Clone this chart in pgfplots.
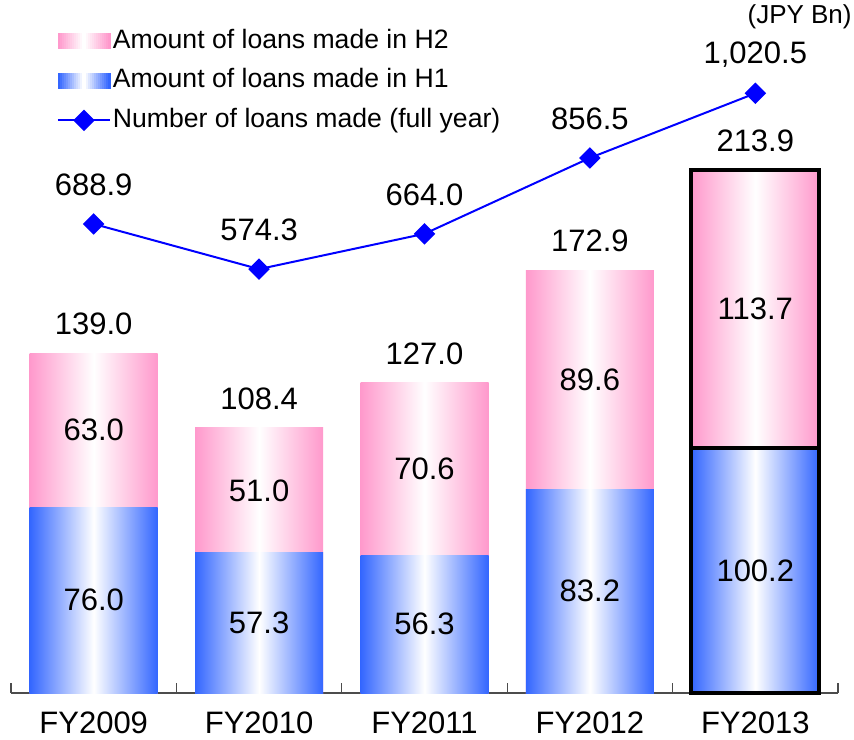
\documentclass[border=0pt]{standalone}
\usepackage{pgfplots}
\pgfplotsset{compat=1.18}
\usepackage{fontspec}
\setmainfont{Liberation Sans}
\definecolor{pinkc}{RGB}{255,153,204}
\definecolor{bluec}{RGB}{51,102,255}
\definecolor{linec}{RGB}{0,0,255}
\pgfdeclarehorizontalshading{pinkbar}{100bp}{color(0bp)=(pinkc); color(25bp)=(pinkc); color(50bp)=(white); color(75bp)=(pinkc); color(100bp)=(pinkc)}
\pgfdeclarehorizontalshading{bluebar}{100bp}{color(0bp)=(bluec); color(25bp)=(bluec); color(50bp)=(white); color(75bp)=(bluec); color(100bp)=(bluec)}
\tikzset{lab/.style={font=\fontsize{15.5}{18}\selectfont}}
\pgfplotsset{
  base/.style={scale only axis, width=413.5pt, height=331.5pt,
    at={(5.5pt,21.5pt)}, anchor=south west, xmin=-0.5, xmax=4.5, clip=false},
  barp/.style={ybar, bar width=64pt, bar shift=0pt, draw=none, shade, shading=#1},
}
\newcommand\gradlegend[1]{%
  \foreach \gx/\gq in {0/100,1/92,2/83,3/75,4/67,5/58,6/50,7/42,8/33,9/25,10/17,11/8,12/0,13/0,14/8,15/17,16/25,17/33,18/42,19/50,20/58,21/67,22/75,23/83,24/92,25/100}{%
    \fill[#1!\gq!white] (\gx*1pt,-3.75pt) rectangle ++(1.05pt,7.5pt);}}
\begin{document}
\begin{tikzpicture}
\path (0,0) rectangle (427pt,368pt);
\begin{axis}[base, ymin=0, ymax=271.17,
  axis y line=none, axis x line*=bottom,
  axis line style={draw=black!70, line width=0.6pt, -},
  xtick={0,1,2,3,4}, xticklabels={FY2009,FY2010,FY2011,FY2012,FY2013},
  major tick length=0pt,
  extra x ticks={-0.5,0.5,1.5,2.5,3.5,4.5}, extra x tick labels={},
  extra x tick style={major tick length=5pt, tick align=inside,
    tick style={draw=black!70, line width=0.6pt}},
  xticklabel style={lab, anchor=base, yshift=-20pt}]
% totals (H1 + H2) drawn first, H1 on top
\addplot[barp=pinkbar] coordinates {(0,139.0)};
\addplot[barp=pinkbar] coordinates {(1,108.4)};
\addplot[barp=pinkbar] coordinates {(2,127.0)};
\addplot[barp=pinkbar] coordinates {(3,172.9)};
\addplot[barp=pinkbar] coordinates {(4,213.9)};
\addplot[barp=bluebar] coordinates {(0,76.0)};
\addplot[barp=bluebar] coordinates {(1,57.3)};
\addplot[barp=bluebar] coordinates {(2,56.3)};
\addplot[barp=bluebar] coordinates {(3,83.2)};
\addplot[barp=bluebar] coordinates {(4,100.2)};
\addplot[ybar, bar width=64pt, bar shift=0pt, draw=black, line width=2pt, fill=none]
  coordinates {(4,213.9)};
\addplot[ybar, bar width=64pt, bar shift=0pt, draw=black, line width=2pt, fill=none]
  coordinates {(4,100.2)};
\addplot[draw=none, mark=none, nodes near coords, point meta=explicit symbolic,
  every node near coord/.style={lab, anchor=center, text=black}]
  table[meta=lab] {
x y lab
0 38.0 76.0
1 28.65 57.3
2 28.15 56.3
3 41.6 83.2
4 50.1 100.2
0 107.5 63.0
1 82.8 51.0
2 91.6 70.6
3 128.0 89.6
4 157.05 113.7
};
\addplot[draw=none, mark=none, nodes near coords, point meta=explicit symbolic,
  every node near coord/.style={lab, anchor=center, yshift=14.5pt, text=black}]
  table[meta=lab] {
x y lab
0 139.0 139.0
1 108.4 108.4
2 127.0 127.0
3 172.9 172.9
4 213.9 213.9
};
\end{axis}
\begin{axis}[base, ymin=-501.5, ymax=1181.2, hide axis,
  legend cell align=left,
  legend style={draw=none, fill=none, inner sep=0pt, outer sep=0pt,
    at={(axis description cs:0.0556,1.0045)}, anchor=north west,
    row sep=5.6pt, font=\fontsize{13.3}{16}\selectfont,
    nodes={inner sep=1pt, text height=9.6pt, text depth=2.6pt},
    /tikz/every even column/.append style={column sep=1pt}}]
\addlegendimage{legend image code/.code={\gradlegend{pinkc}}}
\addlegendentry{Amount of loans made in H2}
\addlegendimage{legend image code/.code={\gradlegend{bluec}}}
\addlegendentry{Amount of loans made in H1}
\addplot[linec, line width=1pt, mark=square*, mark size=3.3pt,
  mark options={rotate=45, solid},
  nodes near coords, point meta=explicit symbolic,
  every node near coord/.style={lab, anchor=center, yshift=19.5pt, text=black},
  legend image code/.code={\draw[linec, line width=1pt, mark=square*, mark size=3.3pt, mark options={rotate=45}, mark repeat=2, mark phase=2] plot coordinates {(0pt,0pt) (13pt,0pt) (26pt,0pt)};}]
  table[meta=lab] {
x y lab
0 688.9 688.9
1 574.3 574.3
2 664.0 664.0
3 856.5 856.5
4 1020.5 {1,020.5}
};
\addlegendentry{Number of loans made (full year)}
\end{axis}
\node[anchor=east, font=\fontsize{13}{16}\selectfont, inner sep=0pt] at (426pt,359.5pt) {(JPY Bn)};
\end{tikzpicture}
\end{document}
